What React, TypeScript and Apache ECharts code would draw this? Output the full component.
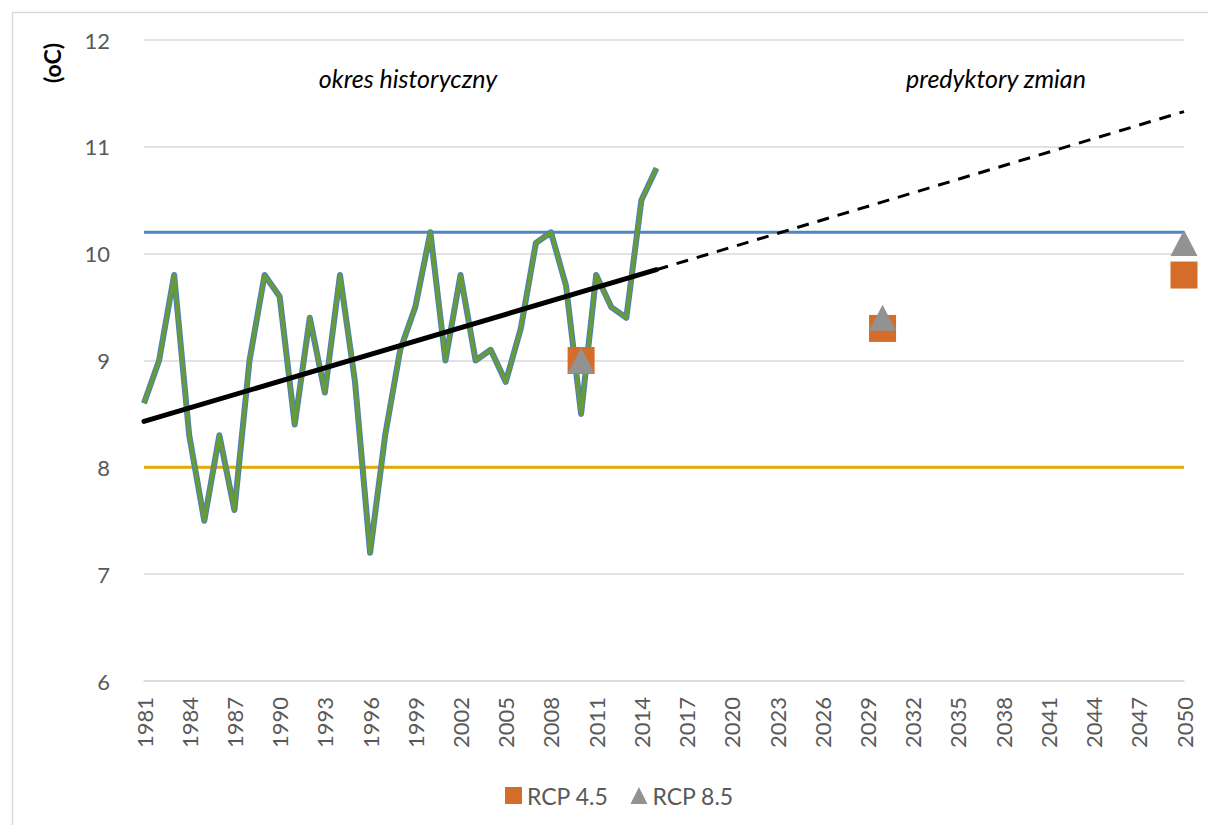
import React, { useEffect, useRef } from "react";
import * as echarts from "echarts";

const years: string[] = Array.from({ length: 70 }, (_, i) => String(1981 + i));

// annual mean temperature 1981-2015 (oC)
const tempHistory = [
  8.6, 9.0, 9.8, 8.3, 7.5, 8.3, 7.6, 9.0, 9.8, 9.6,
  8.4, 9.4, 8.7, 9.8, 8.8, 7.2, 8.3, 9.1, 9.5, 10.2,
  9.0, 9.8, 9.0, 9.1, 8.8, 9.3, 10.1, 10.2, 9.7, 8.5,
  9.8, 9.5, 9.4, 10.5, 10.8,
];

const upperLevel = 10.2;
const lowerLevel = 8.0;

const trendSolid: [string, number][] = [["1981", 8.43], ["2015", 9.85]];
const trendDashed: [string, number][] = [["2015", 9.85], ["2050", 11.33]];

const rcp45: [string, number][] = [["2010", 9.0], ["2030", 9.3], ["2050", 9.8]];
const rcp85: [string, number][] = [["2010", 9.0], ["2030", 9.4], ["2050", 10.1]];

const FONT = "Lato, 'Open Sans', sans-serif";

export default function App() {
  const ref = useRef<HTMLDivElement>(null);
  useEffect(() => {
    if (!ref.current) return;
    const chart = echarts.init(ref.current, null, { renderer: "svg" });
    chart.setOption({
      animation: false,
      backgroundColor: "#ffffff",
      textStyle: { fontFamily: FONT },
      grid: { left: 144, right: 24, top: 40, bottom: 144, containLabel: false },
      legend: {
        top: 779,
        left: 500,
        itemWidth: 17,
        itemHeight: 17,
        itemGap: 22,
        textStyle: { fontSize: 23, color: "#595959", fontFamily: FONT },
        data: [
          { name: "RCP 4.5", icon: "rect" },
          { name: "RCP 8.5", icon: "triangle" },
        ],
      },
      xAxis: {
        type: "category",
        data: years,
        boundaryGap: false,
        axisLine: { show: true, lineStyle: { color: "#d9d9d9", width: 1.5 } },
        axisTick: { show: false },
        axisLabel: {
          rotate: 90,
          interval: 2,
          margin: 16,
          fontSize: 22,
          color: "#595959",
          fontFamily: FONT,
        },
        splitLine: { show: false },
      },
      yAxis: {
        type: "value",
        min: 6,
        max: 12,
        interval: 1,
        axisLine: { show: false },
        axisTick: { show: false },
        axisLabel: { fontSize: 22, color: "#595959", margin: 34, fontFamily: FONT },
        splitLine: { show: true, lineStyle: { color: "#d9d9d9", width: 1.5 } },
      },
      graphic: [
        {
          type: "rect",
          left: 10,
          top: 10,
          silent: true,
          shape: { width: 1260, height: 900 },
          style: { fill: "none", stroke: "#d9d9d9", lineWidth: 1.5 },
        },
        {
          type: "text",
          x: 52,
          y: 63,
          rotation: Math.PI / 2,
          style: {
            text: "(oC)",
            fontSize: 23,
            fontWeight: "bold",
            fill: "#000",
            fontFamily: FONT,
            align: "center",
            verticalAlign: "middle",
          },
        },
        {
          type: "text",
          x: 408,
          y: 78,
          style: {
            text: "okres historyczny",
            fontSize: 25,
            fontStyle: "italic",
            fill: "#000",
            fontFamily: FONT,
            align: "center",
            verticalAlign: "middle",
          },
        },
        {
          type: "text",
          x: 996,
          y: 78,
          style: {
            text: "predyktory zmian",
            fontSize: 25,
            fontStyle: "italic",
            fill: "#000",
            fontFamily: FONT,
            align: "center",
            verticalAlign: "middle",
          },
        },
      ],
      series: [
        {
          name: "upper",
          type: "line",
          data: [["1981", upperLevel], ["2050", upperLevel]],
          symbol: "none",
          lineStyle: { color: "#4F86C0", width: 3 },
          z: 2,
        },
        {
          name: "lower",
          type: "line",
          data: [["1981", lowerLevel], ["2050", lowerLevel]],
          symbol: "none",
          lineStyle: { color: "#E5AC00", width: 3 },
          z: 2,
        },
        {
          name: "tempOutline",
          type: "line",
          data: tempHistory,
          symbol: "none",
          lineStyle: { color: "#4A7EC0", width: 6, join: "round" },
          z: 3,
        },
        {
          name: "temp",
          type: "line",
          data: tempHistory,
          symbol: "none",
          lineStyle: { color: "#669A3B", width: 4, join: "round" },
          z: 4,
        },
        {
          name: "trend",
          type: "line",
          data: trendSolid,
          symbol: "none",
          lineStyle: { color: "#000", width: 5, cap: "round" },
          z: 5,
        },
        {
          name: "trendProjection",
          type: "line",
          data: trendDashed,
          symbol: "none",
          lineStyle: { color: "#000", width: 3, type: [12, 9] },
          z: 5,
        },
        {
          name: "RCP 4.5",
          type: "scatter",
          data: rcp45,
          symbol: "rect",
          symbolSize: 27,
          itemStyle: { color: "#D46D29", opacity: 1 },
          z: 6,
        },
        {
          name: "RCP 8.5",
          type: "scatter",
          data: rcp85,
          symbol: "triangle",
          symbolSize: [27, 26],
          itemStyle: { color: "#929292", opacity: 1 },
          z: 7,
        },
      ],
    });
    return () => chart.dispose();
  }, []);
  return (
    <div
      ref={ref}
      style={{ position: "fixed", left: 0, top: 0, width: 1208, height: 825 }}
    />
  );
}
